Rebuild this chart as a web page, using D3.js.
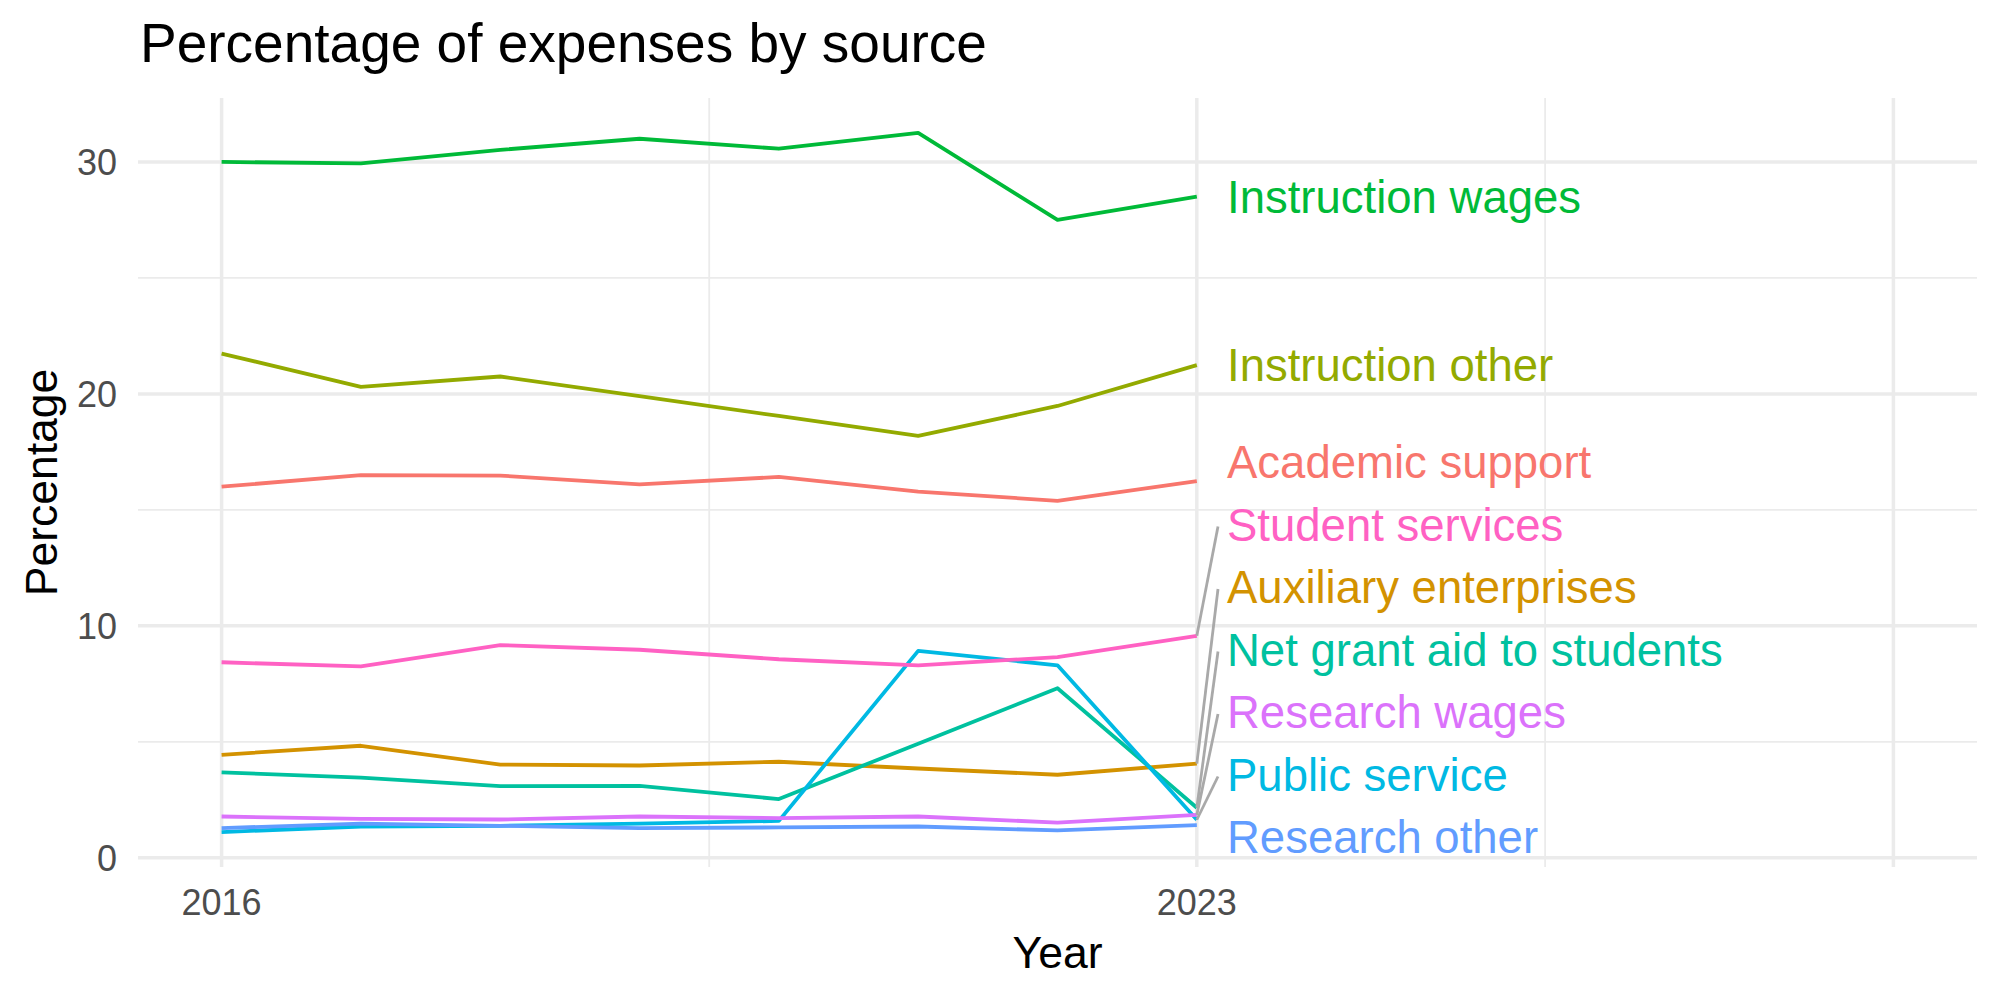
<!DOCTYPE html>
<html>
<head>
<meta charset="utf-8">
<script src="https://cdn.jsdelivr.net/npm/d3@7"></script>
<style>
  body { margin: 0; background: #fff; }
  text { font-family: "Liberation Sans", Arial, sans-serif; }
</style>
</head>
<body>
<script>
    const width = 2000;
    const height = 1000;

    // data
    const years = [2016, 2017, 2018, 2019, 2020, 2021, 2022, 2023];
    const categories = [
        "Academic support", "Auxiliary enterprises", "Instruction other",
        "Instruction wages", "Net grant aid to students", "Public service",
        "Research other", "Research wages", "Student services"
    ];
    const academicSupport = [16.0, 16.5, 16.48, 16.1, 16.42, 15.79, 15.39, 16.24];
    const auxiliaryEnterprises = [4.44, 4.83, 4.02, 3.98, 4.14, 3.85, 3.58, 4.06];
    const instructionOther = [21.74, 20.3, 20.75, 19.9, 19.05, 18.19, 19.48, 21.24];
    const instructionWages = [30.0, 29.94, 30.52, 31.0, 30.57, 31.25, 27.5, 28.5];
    const netGrantAid = [3.68, 3.46, 3.09, 3.1, 2.53, 4.92, 7.31, 2.16];
    const publicService = [1.11, 1.35, 1.38, 1.47, 1.59, 8.92, 8.3, 1.64];
    const researchOther = [1.28, 1.47, 1.38, 1.28, 1.31, 1.35, 1.18, 1.41];
    const researchWages = [1.78, 1.68, 1.65, 1.78, 1.71, 1.78, 1.52, 1.85];
    const studentServices = [8.43, 8.25, 9.17, 8.97, 8.56, 8.3, 8.65, 9.57];
    const seriesValues = [academicSupport, auxiliaryEnterprises, instructionOther,
        instructionWages, netGrantAid, publicService, researchOther,
        researchWages, studentServices];

    const xTickLabels = [2016, 2023];
    const xMajorGrid = [2016, 2023, 2028];
    const xMinorGrid = [2019.5, 2025.5];
    const yTicks = [0, 10, 20, 30];
    const yMinorGrid = [5, 15, 25];

    const colors = ["#F8766D", "#D39200", "#93AA00", "#00BA38", "#00C19F",
        "#00B9E3", "#619CFF", "#DB72FB", "#FF61C3"];

    const series = categories.map((c, i) => ({
        name: c,
        color: colors[i],
        values: years.map((yr, j) => ({ year: yr, value: seriesValues[i][j] }))
    }));

    const panel = { left: 138, right: 1977, top: 98, bottom: 867 };

    const x = d3.scaleLinear()
        .domain([2016 - 0.6, 2028 + 0.6])
        .range([panel.left, panel.right]);

    const all = seriesValues.flat();
    const [lo, hi] = d3.extent(all);
    const pad = (hi - lo) * 0.05;
    const y = d3.scaleLinear()
        .domain([lo - pad, hi + pad])
        .range([panel.bottom, panel.top]);

    const svg = d3.select("body")
        .append("svg")
        .attr("width", width)
        .attr("height", height);

    // grid
    const grid = svg.append("g").attr("stroke", "#EBEBEB");
    grid.selectAll(".ymin").data(yMinorGrid).join("line")
        .attr("x1", panel.left).attr("x2", panel.right)
        .attr("y1", d => y(d)).attr("y2", d => y(d))
        .attr("stroke-width", 1.8);
    grid.selectAll(".xmin").data(xMinorGrid).join("line")
        .attr("y1", panel.top).attr("y2", panel.bottom)
        .attr("x1", d => x(d)).attr("x2", d => x(d))
        .attr("stroke-width", 1.8);
    grid.selectAll(".ymaj").data(yTicks).join("line")
        .attr("x1", panel.left).attr("x2", panel.right)
        .attr("y1", d => y(d)).attr("y2", d => y(d))
        .attr("stroke-width", 3.5);
    grid.selectAll(".xmaj").data(xMajorGrid).join("line")
        .attr("y1", panel.top).attr("y2", panel.bottom)
        .attr("x1", d => x(d)).attr("x2", d => x(d))
        .attr("stroke-width", 3.5);

    // axes text
    svg.append("g")
        .attr("font-size", 36)
        .attr("fill", "#4D4D4D")
        .attr("text-anchor", "end")
        .selectAll("text")
        .data(yTicks)
        .join("text")
        .attr("x", 117)
        .attr("y", d => y(d) + 13)
        .text(d => d);

    svg.append("g")
        .attr("font-size", 36)
        .attr("fill", "#4D4D4D")
        .attr("text-anchor", "middle")
        .selectAll("text")
        .data(xTickLabels)
        .join("text")
        .attr("x", d => x(d))
        .attr("y", 915)
        .text(d => d);

    svg.append("text")
        .attr("x", (panel.left + panel.right) / 2)
        .attr("y", 968)
        .attr("text-anchor", "middle")
        .attr("font-size", 44.5)
        .text("Year");

    svg.append("text")
        .attr("transform", `translate(57,${(panel.top + panel.bottom) / 2}) rotate(-90)`)
        .attr("text-anchor", "middle")
        .attr("font-size", 44.5)
        .text("Percentage");

    svg.append("text")
        .attr("x", 140)
        .attr("y", 62)
        .attr("font-size", 55)
        .text("Percentage of expenses by source");

    // lines
    const line = d3.line()
        .x(d => x(d.year))
        .y(d => y(d.value));

    svg.append("g")
        .attr("fill", "none")
        .attr("stroke-width", 3.8)
        .attr("stroke-linejoin", "round")
        .selectAll("path")
        .data(series)
        .join("path")
        .attr("stroke", d => d.color)
        .attr("d", d => line(d.values));

    // end labels, pushed apart like ggrepel does
    const gap = 62.5;
    const maxY = panel.bottom - 30;
    const labels = series.map(s => {
        const last = s.values[s.values.length - 1];
        return { s, px: x(last.year), py: y(last.value), ly: y(last.value) };
    }).sort((a, b) => a.py - b.py);
    for (let i = 1; i < labels.length; i++) {
        labels[i].ly = Math.max(labels[i].ly, labels[i - 1].ly + gap);
    }
    labels[labels.length - 1].ly = Math.min(labels[labels.length - 1].ly, maxY);
    for (let i = labels.length - 2; i >= 0; i--) {
        labels[i].ly = Math.min(labels[i].ly, labels[i + 1].ly - gap);
    }

    const labelX = 1227;

    svg.append("g")
        .attr("stroke", "#A9A9A9")
        .attr("stroke-width", 2.8)
        .selectAll("line")
        .data(labels.filter(d => Math.abs(d.ly - d.py) > 30))
        .join("line")
        .attr("x1", d => d.px)
        .attr("y1", d => d.py)
        .attr("x2", labelX - 9)
        .attr("y2", d => d.ly + 2);

    svg.append("g")
        .attr("font-size", 45.5)
        .selectAll("text")
        .data(labels)
        .join("text")
        .attr("x", labelX)
        .attr("y", d => d.ly + 16)
        .attr("fill", d => d.s.color)
        .text(d => d.s.name);
</script>
</body>
</html>
